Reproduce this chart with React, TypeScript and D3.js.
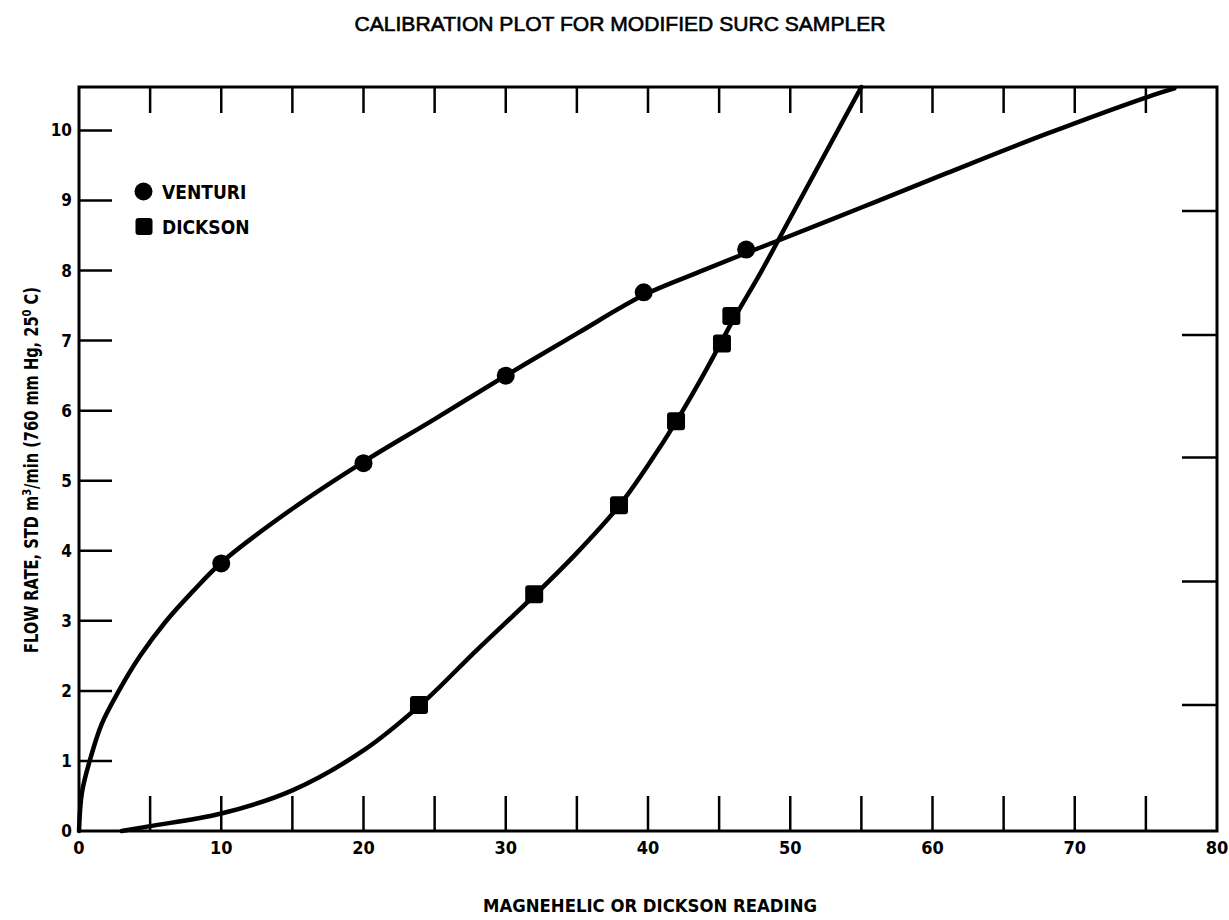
import React from "react";
import * as d3 from "d3";

// measured points
const venturiX = [10, 20, 30, 39.7, 46.9];
const venturiY = [3.82, 5.25, 6.5, 7.69, 8.3];
const dicksonX = [23.9, 32.0, 37.96, 41.97, 45.2, 45.86];
const dicksonY = [1.8, 3.38, 4.65, 5.85, 6.96, 7.35];

// hand drawn calibration curves
const venturiCurveX = [0, 0.2, 0.75, 1.6, 2.8, 4.3, 6.1, 8, 10, 15, 20, 25, 30, 35, 39.7, 43.6, 46.9, 49.3, 55, 61, 68, 75, 77];
const venturiCurveY = [0, 0.54, 1.0, 1.53, 2.0, 2.5, 2.99, 3.42, 3.83, 4.6, 5.27, 5.88, 6.5, 7.1, 7.65, 7.98, 8.25, 8.44, 8.9, 9.39, 9.95, 10.47, 10.6];
const dicksonCurveX = [3, 5, 10, 15, 20, 24, 28, 32, 35, 38, 40, 42, 44, 46, 48, 50, 55];
const dicksonCurveY = [0, 0.07, 0.25, 0.58, 1.15, 1.8, 2.59, 3.36, 3.97, 4.65, 5.22, 5.85, 6.55, 7.3, 8.0, 8.75, 10.62];

const xLabels = [0, 10, 20, 30, 40, 50, 60, 70, 80];
const xMinorTicks = [5, 10, 15, 20, 25, 30, 35, 40, 45, 50, 55, 60, 65, 70, 75];
const yLabels = [0, 1, 2, 3, 4, 5, 6, 7, 8, 9, 10];
const yTicks = [1, 2, 3, 4, 5, 6, 7, 8, 9, 10];
const rightTicks = [1.8, 3.56, 5.33, 7.08, 8.85];

const legendItems = [
  { label: "VENTURI", shape: "circle" },
  { label: "DICKSON", shape: "square" },
];

const title = "CALIBRATION PLOT FOR MODIFIED SURC SAMPLER";
const xTitle = "MAGNEHELIC OR DICKSON READING";

const NARROW = "'Liberation Sans Narrow', 'DejaVu Sans Condensed', 'Arial Narrow', sans-serif";
const SANS = "'Liberation Sans', Arial, sans-serif";

export default function App() {
  const W = 1229;
  const H = 920;
  const left = 79;
  const right = 1217;
  const top = 87;
  const bottom = 831;

  const x = d3.scaleLinear().domain([0, 80]).range([left, right]);
  const y = d3.scaleLinear().domain([0, 10.62]).range([bottom, top]);

  const line = d3
    .line<[number, number]>()
    .x((d) => x(d[0]))
    .y((d) => y(d[1]))
    .curve(d3.curveCatmullRom.alpha(0.5));

  const venturiCurve = venturiCurveX.map((v, i) => [v, venturiCurveY[i]] as [number, number]);
  const dicksonCurve = dicksonCurveX.map((v, i) => [v, dicksonCurveY[i]] as [number, number]);

  const ink = "#000";

  return (
    <svg
      width={W}
      height={H}
      viewBox={`0 0 ${W} ${H}`}
      style={{ position: "absolute", left: 0, top: 0, background: "#fff" }}
    >
      <rect x={0} y={0} width={W} height={H} fill="#fff" />

      {/* title */}
      <text
        x={620}
        y={31}
        textAnchor="middle"
        textLength={531}
        lengthAdjust="spacingAndGlyphs"
        style={{ fontFamily: SANS, fontSize: 20, fill: ink, stroke: ink, strokeWidth: 0.6 }}
      >
        {title}
      </text>

      {/* frame */}
      <rect
        x={left}
        y={top}
        width={right - left}
        height={bottom - top}
        fill="none"
        stroke={ink}
        strokeWidth={3}
      />

      {/* ticks */}
      {xMinorTicks.map((t) => (
        <g key={"xt" + t}>
          <line x1={x(t)} x2={x(t)} y1={bottom} y2={bottom - 35} stroke={ink} strokeWidth={2.5} />
          <line x1={x(t)} x2={x(t)} y1={top} y2={top + 26} stroke={ink} strokeWidth={2.5} />
        </g>
      ))}
      {yTicks.map((t) => (
        <line key={"yt" + t} x1={left} x2={left + 33} y1={y(t)} y2={y(t)} stroke={ink} strokeWidth={2.5} />
      ))}
      {rightTicks.map((t) => (
        <line key={"rt" + t} x1={right} x2={right - 35} y1={y(t)} y2={y(t)} stroke={ink} strokeWidth={2.5} />
      ))}

      {/* tick labels */}
      {xLabels.map((t) => (
        <text
          key={"xl" + t}
          x={x(t)}
          y={854}
          textAnchor="middle"
          style={{ fontFamily: NARROW, fontWeight: "bold", fontSize: 18, fill: ink }}
        >
          {t}
        </text>
      ))}
      {yLabels.map((t) => (
        <text
          key={"yl" + t}
          x={72}
          y={y(t) + 6}
          textAnchor="end"
          style={{ fontFamily: NARROW, fontWeight: "bold", fontSize: 17, fill: ink }}
        >
          {t}
        </text>
      ))}

      {/* axis titles */}
      <text
        x={650}
        y={912}
        textAnchor="middle"
        textLength={334}
        lengthAdjust="spacingAndGlyphs"
        style={{ fontFamily: NARROW, fontWeight: "bold", fontSize: 18, fill: ink }}
      >
        {xTitle}
      </text>
      <text
        x={0}
        y={0}
        transform={`translate(38, 470) rotate(-90)`}
        textAnchor="middle"
        textLength={366}
        lengthAdjust="spacingAndGlyphs"
        style={{ fontFamily: NARROW, fontWeight: "bold", fontSize: 19, fill: ink }}
      >
        FLOW RATE, STD m
        <tspan dy={-7} style={{ fontSize: 13 }}>3</tspan>
        <tspan dy={7}>/min (760 mm Hg, 25</tspan>
        <tspan dy={-7} style={{ fontSize: 13 }}>0</tspan>
        <tspan dy={7}> C)</tspan>
      </text>

      {/* curves */}
      <path d={line(venturiCurve) ?? ""} fill="none" stroke={ink} strokeWidth={4.5} strokeLinecap="round" />
      <path d={line(dicksonCurve) ?? ""} fill="none" stroke={ink} strokeWidth={4.5} strokeLinecap="round" />

      {/* points */}
      {venturiX.map((v, i) => (
        <circle key={"v" + i} cx={x(v)} cy={y(venturiY[i])} r={9} fill={ink} />
      ))}
      {dicksonX.map((v, i) => (
        <rect
          key={"d" + i}
          x={x(v) - 9}
          y={y(dicksonY[i]) - 9}
          width={18}
          height={18}
          rx={3}
          fill={ink}
        />
      ))}

      {/* legend */}
      {legendItems.map((item, i) => {
        const cy = 191.5 + i * 35;
        return (
          <g key={item.label}>
            {item.shape === "circle" ? (
              <circle cx={143.5} cy={cy} r={9} fill={ink} />
            ) : (
              <rect x={135.5} y={cy - 8.5} width={17} height={17} rx={3} fill={ink} />
            )}
            <text
              x={162}
              y={cy + 7.5}
              style={{ fontFamily: NARROW, fontWeight: "bold", fontSize: 19, fill: ink }}
            >
              {item.label}
            </text>
          </g>
        );
      })}
    </svg>
  );
}
